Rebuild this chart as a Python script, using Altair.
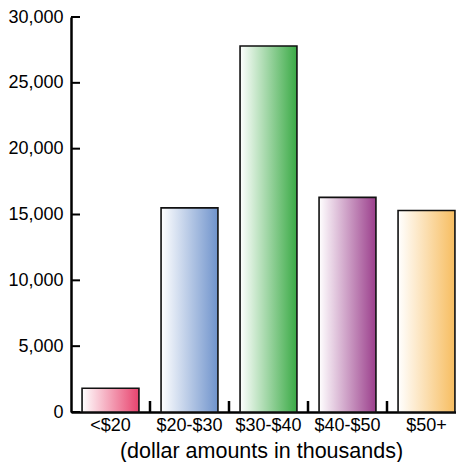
import altair as alt
import pandas as pd

categories = ["<$20", "$20-$30", "$30-$40", "$40-$50", "$50+"]
values = [1800, 15500, 27800, 16300, 15300]
colors = ["#e8436e", "#6f93cc", "#3aaa45", "#9b3f8c", "#f7bd60"]
y_ticks = [0, 5000, 10000, 15000, 20000, 25000, 30000]
x_title = "(dollar amounts in thousands)"

df = pd.DataFrame({"cat": categories, "v": values})
ydf = pd.DataFrame({"t": y_ticks})
xdf = pd.DataFrame({"cat": categories[1:]})

FONT = "Liberation Sans"

xscale = alt.Scale(domain=categories, paddingInner=0, paddingOuter=0, range=[0, 395])
yscale = alt.Scale(domain=[0, 30000], nice=False)

xaxis = alt.Axis(
    labelAngle=0, ticks=False, tickSize=0, labelPadding=4,
    labelFont=FONT, labelFontSize=18, labelColor="black",
    titleFont=FONT, titleFontSize=21.5, titleFontWeight="normal",
    titleColor="black", titlePadding=6, titleX=190,
    domainColor="black", domainWidth=2.5, grid=False,
)
yaxis = alt.Axis(
    values=y_ticks, labelExpr="format(datum.value, ',')",
    ticks=False, tickSize=0, labelPadding=8,
    labelFont=FONT, labelFontSize=18, labelColor="black",
    domainColor="black", domainWidth=2.5, grid=False,
)

layers = []
for cat, col in zip(categories, colors):
    grad = alt.Gradient(
        gradient="linear",
        stops=[alt.GradientStop(color="#ffffff", offset=0),
               alt.GradientStop(color=col, offset=1)],
        x1=0, x2=1, y1=0, y2=0,
    )
    layers.append(
        alt.Chart(df)
        .transform_filter(alt.datum.cat == cat)
        .mark_bar(fill=grad, stroke="#111111", strokeWidth=1.6,
                  width=alt.RelativeBandSize(0.72))
        .encode(
            x=alt.X("cat:N", scale=xscale, title=x_title, axis=xaxis),
            y=alt.Y("v:Q", scale=yscale, title=None, axis=yaxis),
        )
    )

yticks = alt.Chart(ydf).mark_rule(color="black", strokeWidth=2).encode(
    y=alt.Y("t:Q", scale=yscale, title=None, axis=yaxis),
    x=alt.value(0), x2=alt.value(9),
)
xticks = alt.Chart(xdf).mark_rule(color="black", strokeWidth=2.5).encode(
    x=alt.X("cat:N", scale=xscale, bandPosition=0, title=x_title, axis=xaxis),
    y=alt.value(395), y2=alt.value(384),
)

chart = (
    alt.layer(*layers, yticks, xticks)
    .properties(width=385, height=395, autosize="none",
                padding={"left": 63, "top": 9, "right": 0, "bottom": 50})
    .configure_view(stroke=None)
)

chart.save("out.html", embed_options={"renderer": "svg", "actions": False})
